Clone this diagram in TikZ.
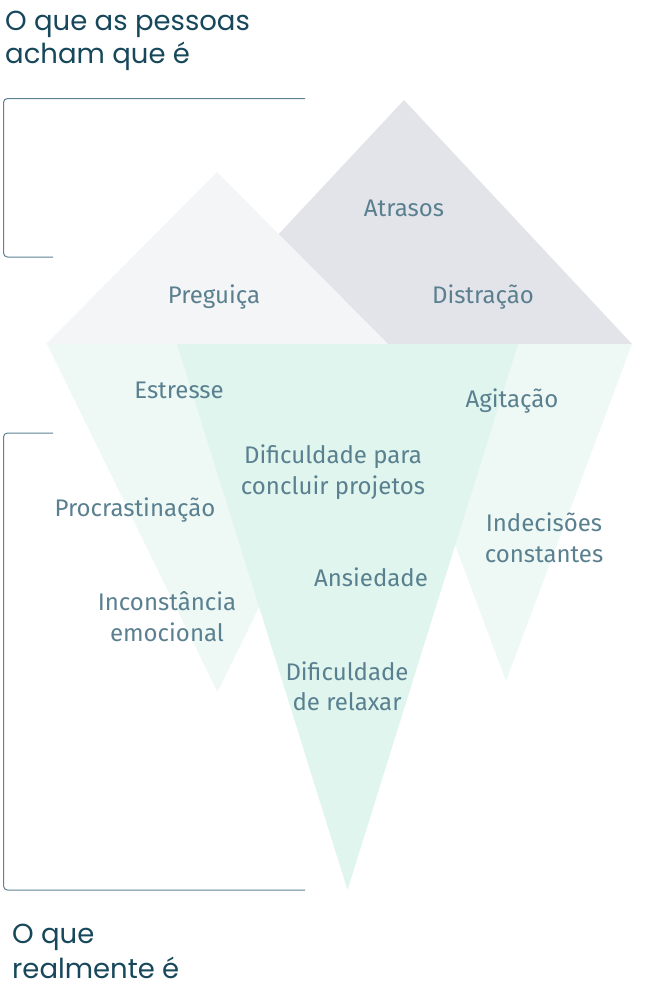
\documentclass[tikz,border=0pt]{standalone}
\usepackage{fontspec}
\setmainfont{Fira Sans}
\newfontfamily\titlefont{Poppins}
\definecolor{titlecol}{HTML}{16475A}
\definecolor{labelcol}{HTML}{5A8090}
\definecolor{linecol}{HTML}{5E8294}
\definecolor{lgray}{HTML}{F4F5F7}
\definecolor{dgray}{HTML}{E3E4E9}
\definecolor{lgreen}{HTML}{EEF9F5}
\definecolor{mgreen}{HTML}{DFF5EE}
\begin{document}
\begin{tikzpicture}[x=1pt,y=-1pt,
  lbl/.style={text=labelcol,font=\fontsize{24}{31}\selectfont,inner sep=0pt,anchor=base},
  ttl/.style={text=titlecol,font=\titlefont\fontsize{27.5}{33}\selectfont,inner sep=0pt,anchor=base west},
  brk/.style={draw=linecol,line width=1pt,rounded corners=4pt}]
\useasboundingbox (0,0) rectangle (668,986);
% triangles
\fill[dgray] (404,100) -- (632,344) -- (176,344) -- cycle;
\fill[lgray] (217,172) -- (388,344) -- (46,344) -- cycle;
\fill[lgreen] (47,344) -- (388,344) -- (217.5,692) -- cycle;
\fill[lgreen] (380,344) -- (632,344) -- (506,681) -- cycle;
\fill[mgreen] (177,344) -- (518,344) -- (347.5,890) -- cycle;
% brackets
\coordinate (b1s) at (305,98.5);
\coordinate (b1e) at (53,257);
\draw[brk] (b1s) -- (3.5,98.5) -- (3.5,257) -- (b1e);
\coordinate (b2s) at (53,433);
\coordinate (b2e) at (305,890);
\draw[brk] (b2s) -- (3.5,433) -- (3.5,890) -- (b2e);
% titles
\node[ttl] (t1a) at (5,30) {O que as pessoas};
\node[ttl] (t1b) at (5,63) {acham que é};
\node[ttl] (t2a) at (12,943) {O que};
\node[ttl] (t2b) at (12,978) {realmente é};
% labels
\node[lbl] (atr) at (404,216.7) {Atrasos};
\node[lbl] (pre) at (214,303) {Preguiça};
\node[lbl] (dis) at (483,303) {Distração};
\node[lbl] (est) at (179,398) {Estresse};
\node[lbl] (agi) at (512,407) {Agitação};
\node[lbl] (difa) at (333,463) {Dificuldade para};
\node[lbl] (difb) at (333,494) {concluir projetos};
\node[lbl] (pro) at (135,516.7) {Procrastinação};
\node[lbl] (inda) at (544,531) {Indecisões};
\node[lbl] (indb) at (544,562) {constantes};
\node[lbl] (ans) at (371,586.7) {Ansiedade};
\node[lbl] (inca) at (167,610) {Inconstância};
\node[lbl] (incb) at (167,641) {emocional};
\node[lbl] (drea) at (347,680) {Dificuldade};
\node[lbl] (dreb) at (347,710.7) {de relaxar};
\end{tikzpicture}
\end{document}
